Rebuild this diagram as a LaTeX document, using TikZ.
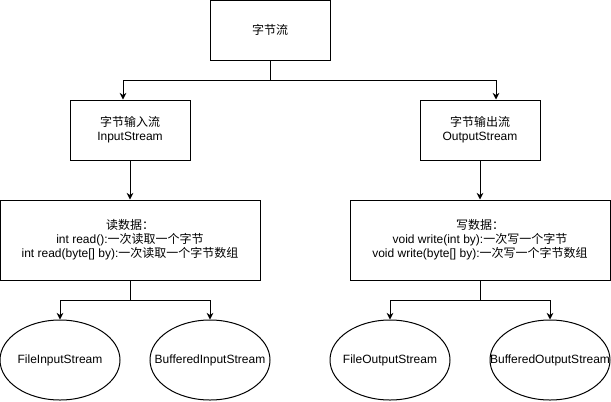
\documentclass[tikz,border=0pt]{standalone}
\usepackage{fontspec}
\setmainfont{Liberation Sans}
\newfontfamily\zh{Noto Sans CJK SC}
\usepackage{tikz}
\usetikzlibrary{shapes,positioning,calc,arrows.meta}

\begin{document}
\begin{tikzpicture}[
    x=0.75pt, y=-0.75pt,
    line width=0.75pt,
    font=\fontsize{9}{10.5}\selectfont,
    box/.style={rectangle, draw, minimum width=90pt, minimum height=45pt, align=center},
    bigbox/.style={rectangle, draw, minimum width=195pt, minimum height=60pt, align=center},
    oval/.style={ellipse, draw, minimum width=90pt, minimum height=60pt, inner sep=0pt},
    arrow/.style={-{Stealth[length=5pt,width=5pt]}}
]
\useasboundingbox (0,0) rectangle (611,401);

% Top node
\node[box] (stream) at (270,30) {{\zh 字节流}};

% Input and output streams
\node[box] (in) at (130,130) {{\zh 字节输入流}\\InputStream};
\node[box] (out) at (480,130) {{\zh 字节输出流}\\OutputStream};

% Methods
\node[bigbox] (read) at (130,240) {
    {\zh 读数据：}\\
    int read():{\zh 一次读取一个字节}\\
    int read(byte[] by):{\zh 一次读取一个字节数组}
};
\node[bigbox] (write) at (480,240) {
    {\zh 写数据：}\\
    void write(int by):{\zh 一次写一个字节}\\
    void write(byte[] by):{\zh 一次写一个字节数组}
};

% Subclasses
\node[oval, label=center:FileInputStream] (fis) at (60,360) {};
\node[oval, label=center:BufferedInputStream] (bis) at (210,360) {};
\node[oval, label=center:FileOutputStream] (fos) at (390,360) {};
\node[oval, label=center:BufferedOutputStream] (bos) at (550,360) {};

% Connectors
\draw[arrow] (stream.south) -- ++(0,20) -| ([xshift=-5.25pt]in.north);
\draw[arrow] (stream.south) -- ++(0,20) -| ([xshift=12pt]out.north);
\draw[arrow] (in.south) -- (read.north);
\draw[arrow] (out.south) -- (write.north);
\draw[arrow] (read.south) -- ++(0,20) -| (fis.north);
\draw[arrow] (read.south) -- ++(0,20) -| (bis.north);
\draw[arrow] (write.south) -- ++(0,20) -| (fos.north);
\draw[arrow] (write.south) -- ++(0,20) -| (bos.north);

\end{tikzpicture}
\end{document}
